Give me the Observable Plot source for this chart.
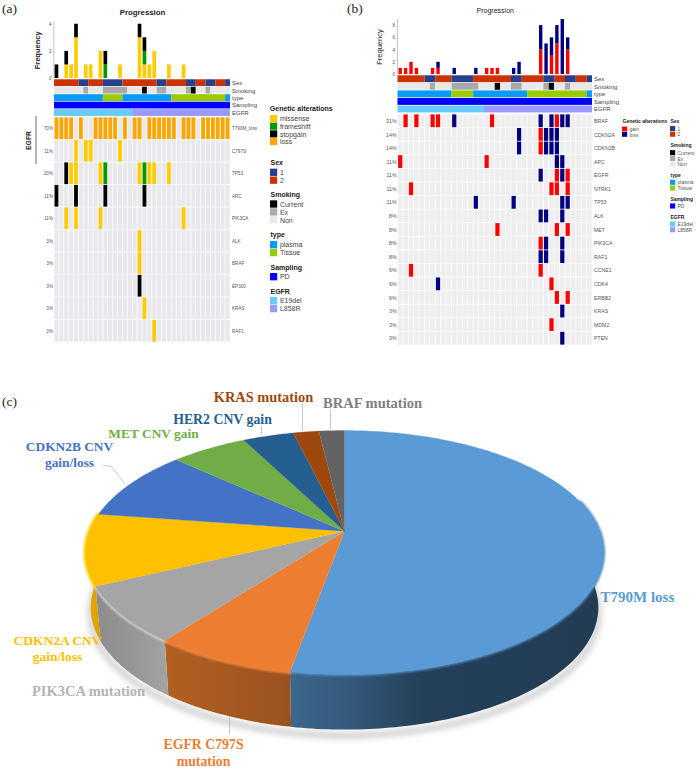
<!DOCTYPE html>
<html><head><meta charset="utf-8">
<script src="https://cdn.jsdelivr.net/npm/d3@7"></script>
<script src="https://cdn.jsdelivr.net/npm/@observablehq/plot@0.6"></script>
<style>
html,body{margin:0;padding:0;background:#fff}
#root{position:relative;width:696px;height:771px;overflow:hidden}
#root svg{position:absolute;background:transparent;max-width:none;overflow:visible;font-family:"Liberation Sans",sans-serif !important}
.tag{position:absolute;font:13.5px "Liberation Serif",serif;color:#222}
</style></head><body><div id="root">
<div class="tag" style="left:2px;top:1px">(a)</div>
<div class="tag" style="left:347px;top:1px">(b)</div>
<div class="tag" style="left:2px;top:394px">(c)</div>
</div>
<script>
// ---------- shared sample annotations (36 samples) ----------
const samples = d3.range(36);
const sexBySample = ["2","2","2","2","2","1","1","2","2","2","1","1","1","1","2","2","2","2","2","2","2","1","1","2","2","2","2","1","1","2","2","1","1","2","2","1"];
const smokingBySample = ["Non","Non","Non","Non","Non","Non","Ex","Non","Non","Non","Ex","Ex","Ex","Ex","Ex","Non","Non","Non","Current","Non","Non","Ex","Ex","Non","Non","Non","Non","Ex","Current","Non","Non","Ex","Non","Non","Non","Non"];
const typeBySample = ["plasma","plasma","plasma","plasma","plasma","plasma","plasma","plasma","plasma","plasma","Tissue","Tissue","Tissue","Tissue","plasma","plasma","plasma","plasma","plasma","plasma","plasma","plasma","plasma","plasma","Tissue","Tissue","Tissue","Tissue","Tissue","Tissue","Tissue","Tissue","Tissue","Tissue","Tissue","plasma"];
const samplingBySample = samples.map(() => "PD");
const egfrBySample = samples.map(i => i < 16 ? "E19del" : "L858R");
const trackNames = ["Sex","Smoking","type","Sampling","EGFR"];

// ---------- panel (a) ----------
const aGenes = ["T790M_loss","C797S","TP53","APC","PIK3CA","ALK","BRAF","EP300","KRAS","RAF1"];
const aPct = ["70%","11%","20%","11%","11%","3%","3%","3%","3%","3%"];
const aLoss = [[0,1,2,3,5,8,9,10,11,12,14,16,17,19,20,21,22,23,24,26,27,28,30,31,32,33,34,35],[],[],[],[],[],[],[],[],[]];
const aMissense = [[],[4,6,7,13],[3,4,9,17,19,20,23],[],[2,4,9,26],[17],[17],[],[18],[20]];
const aFrameshift = [[],[],[10,18],[],[],[],[],[],[],[]];
const aStopgain = [[],[],[2],[0,4,10,18],[],[],[],[17],[],[]];

// ---------- panel (b) ----------
const bGenes = ["BRAF","CDKN2A","CDKN2B","APC","EGFR","NTRK1","TP53","ALK","MET","PIK3CA","RAF1","CCNE1","CDK4","ERBB2","KRAS","MDM2","PTEN"];
const bPct = ["31%","14%","14%","11%","11%","11%","11%","8%","8%","8%","8%","6%","6%","6%","3%","3%","3%"];
const bGain = [[1,3,6,7,17,29],[26],[26],[0,16],[29,31],[2,28,29,31],[],[],[18,29,31],[26],[],[2,26],[28],[29,31],[],[28],[]];
const bLoss = [[10,26,28,30,31],[22,27,28,29],[22,27,28,29],[29,30],[26,30],[],[14,21,30,31],[26,27,30],[],[27,30],[26,27,30],[],[7],[],[30],[],[30]];

// ---------- panel (c) ----------
const pieNames = ["T790M loss","EGFR C797S\nmutation","PIK3CA mutation","CDKN2A CNV\ngain/loss","CDKN2B CNV\ngain/loss","MET CNV gain","HER2 CNV gain","KRAS mutation","BRAF mutation"];
const pieCounts = [28,4,4,5,5,3,2,1,1];
const pieColors = ["#5b9bd5","#ed7d31","#a5a5a5","#ffc000","#4472c4","#70ad47","#255e91","#9e480e","#636363"];
const pieTextColors = ["#5b9bd5","#ed7d31","#b4b4b4","#ffc000","#4472c4","#70ad47","#255e91","#9e480e","#7f7f7f"];

// ---------- colours ----------
const trackColors = {domain:["1","2","Current","Ex","Non","plasma","Tissue","PD","E19del","L858R"],
  range:["#283f8e","#cc3300","#000000","#aaaaaa","#e8e8e8","#0a9bf5","#99cc00","#0000ff","#66ccff","#9999ff"]};
const aKinds = ["missense","frameshift","stopgain","loss"];
const aKindColors = ["#ffcc00","#009900","#000000","#ffa500"];
const bKinds = ["gain","loss"];
const bKindColors = ["#ff0000","#000080"];

const root = document.getElementById("root");
function put(svg, left, top){ svg.style.left = left+"px"; svg.style.top = top+"px"; root.appendChild(svg); }
const bandX = {type:"band",domain:samples,padding:0,round:false,axis:null};

function tidy(genes, lists){
  const out=[];
  lists.forEach(([kind,rows])=>rows.forEach((r,i)=>r.forEach(s=>out.push({gene:genes[i],sample:s,kind}))));
  return out;
}
// adjacent samples with the same value are joined into one run
function runs(track, values){
  const out=[];
  values.forEach((v,i)=>{
    const last=out[out.length-1];
    if(last && last.v===v) last.end=i+1; else out.push({track,v,start:i,end:i+1});
  });
  return out;
}
const trackRuns = [
  ...runs("Sex",sexBySample),...runs("Smoking",smokingBySample),...runs("type",typeBySample),
  ...runs("Sampling",samplingBySample),...runs("EGFR",egfrBySample)];

function panel(o){
  const W=o.width, colW=(o.x1-o.x0)/36;
  const barData=o.alts.filter(d=>d.gene!==o.skipGene);
  put(Plot.plot({width:W,height:o.barBase,marginTop:o.barTop,marginBottom:0,marginLeft:o.x0,marginRight:W-o.x1,
    x:bandX,
    y:{domain:[0,o.barMax],axis:null},
    color:{domain:o.kinds,range:o.kindColors},
    marks:[
      Plot.barY(barData,Plot.groupX({y:"count"},{x:"sample",fill:"kind",order:o.kinds,insetLeft:o.barInset,insetRight:o.barInset})),
      Plot.ruleX([0],{dx:-colW/2-.6,stroke:"#999",strokeWidth:.6}),
      Plot.text(o.barTicks,{y:d=>d,text:d=>String(d),frameAnchor:"left",textAnchor:"end",dx:-3,fontSize:4.5,fill:"#555"}),
      Plot.text(["Frequency"],{frameAnchor:"left",textAnchor:"middle",dx:o.freqDx,rotate:-90,fontSize:o.freqSize,fontWeight:o.freqWeight,fill:"#222"}),
      Plot.text(["Progression"],{frameAnchor:"top",lineAnchor:"middle",dy:o.titleDy,fontSize:o.titleSize,fontWeight:o.titleWeight,fill:"#222"})
    ]}),o.left,0);
  put(Plot.plot({width:W,height:o.trackH,marginTop:.6,marginBottom:.4,marginLeft:o.x0,marginRight:W-o.x1,
    x:{domain:[0,36],axis:null},
    y:{type:"band",domain:trackNames,padding:.09,round:false,axis:null},
    color:trackColors,
    marks:[
      Plot.barX(trackRuns,{x1:"start",x2:"end",y:"track",fill:"v"}),
      Plot.text(trackNames,{y:d=>d,text:d=>d,frameAnchor:"right",textAnchor:"start",dx:1.5,fontSize:6,fill:"#444"})
    ]}),o.left,o.barBase);
  const bg=o.genes.flatMap(g=>samples.map(s=>({gene:g,sample:s})));
  put(Plot.plot({width:W,height:o.gridH,marginTop:0,marginBottom:0,marginLeft:o.x0,marginRight:W-o.x1,
    x:bandX,
    y:{type:"band",domain:o.genes,padding:0,round:false,axis:null},
    color:{domain:o.kinds,range:o.kindColors},
    marks:[
      Plot.cell(bg,{x:"sample",y:"gene",fill:o.cellBg,insetLeft:.35,insetRight:.35,insetTop:.4,insetBottom:.4}),
      Plot.cell(o.alts,{x:"sample",y:"gene",fill:"kind",insetLeft:o.cellInset,insetRight:o.cellInset,insetTop:.4,insetBottom:.4}),
      Plot.text(o.genes,{y:d=>d,text:(d,i)=>o.pct[i],frameAnchor:"left",textAnchor:"end",dx:-1.5,fontSize:o.rowFont,fill:"#555"}),
      Plot.text(o.genes,{y:d=>d,text:d=>d,frameAnchor:"right",textAnchor:"start",dx:1.5,fontSize:o.rowFont,fill:"#555"})
    ]}),o.left,o.gridTop);
}

function legend(o){
  const n=o.items.length, top=o.titleY-6, mt=o.firstY-o.pitch/2-top, sw=o.swatch;
  put(Plot.plot({width:70,height:mt+o.pitch*n,marginTop:mt,marginBottom:0,marginLeft:0,marginRight:70-sw,
    x:{type:"band",domain:["k"],padding:0,round:false,axis:null},
    y:{type:"band",domain:o.items,padding:0,round:false,axis:null},
    color:{domain:o.items,range:o.colors},
    marks:[
      Plot.cell(o.items,{x:()=>"k",y:d=>d,fill:d=>d,insetTop:.3,insetBottom:.3}),
      Plot.text(o.items,{y:d=>d,text:d=>d,frameAnchor:"left",textAnchor:"start",dx:sw+o.gap,fontSize:o.font,fill:o.textFill}),
      Plot.text([o.title],{frameAnchor:"top-left",textAnchor:"start",lineAnchor:"middle",dx:o.titleDx||0,dy:o.titleY-o.firstY+o.pitch/2,fontSize:o.titleFont,fontWeight:"bold",fill:"#222"})
    ]}),o.left,top);
}

panel({left:0,width:345,x0:54,x1:230,barBase:78,barTop:21.7,barMax:4.15,barTicks:[0,2,4],barInset:.6,
  freqDx:-17,freqSize:7.5,freqWeight:"bold",titleDy:-9.7,titleSize:7.8,titleWeight:"bold",
  kinds:aKinds,kindColors:aKindColors,
  alts:tidy(aGenes,[["loss",aLoss],["missense",aMissense],["frameshift",aFrameshift],["stopgain",aStopgain]]),skipGene:"T790M_loss",
  trackH:39,gridTop:117,gridH:225,genes:aGenes,pct:aPct,cellBg:"#e9e9ed",cellInset:.55,rowFont:4.6});

panel({left:345,width:351,x0:52.5,x1:247,barBase:74,barTop:19,barMax:9,barTicks:[0,2,4,6,8],barInset:1,
  freqDx:-18.5,freqSize:7.5,freqWeight:"normal",titleDy:-9,titleSize:7,titleWeight:"normal",
  kinds:bKinds,kindColors:bKindColors,
  alts:tidy(bGenes,[["gain",bGain],["loss",bLoss]]),skipGene:null,
  trackH:39.5,gridTop:114,gridH:231,genes:bGenes,pct:bPct,cellBg:"#eeeeee",cellInset:.6,rowFont:5.2});

put(Plot.plot({width:40,height:48,margin:0,x:{domain:[0,1],axis:null},y:{domain:[0,1],axis:null},
  marks:[Plot.ruleX([1],{stroke:"#444",strokeWidth:.8,dx:-4.5}),
         Plot.text(["EGFR"],{x:()=>1,frameAnchor:"middle",dx:-12,rotate:-90,fontSize:6.8,fontWeight:"bold",fill:"#222"})]}),0,116);

const A={left:270,swatch:7.2,gap:2.2,font:7,titleFont:7,textFill:"#444"};
legend({...A,title:"Genetic alterations",titleDx:-.7,titleY:108,firstY:118.5,pitch:7.7,items:aKinds,colors:aKindColors});
const tc=k=>trackColors.range[trackColors.domain.indexOf(k)];
[["Sex",161.7,172,["1","2"]],["Smoking",194.3,204.3,["Current","Ex","Non"]],["type",234.3,245,["plasma","Tissue"]],["Sampling",267,276.7,["PD"]],["EGFR",291.3,301,["E19del","L858R"]]]
  .forEach(([t,ty,fy,it])=>legend({...A,title:t,titleY:ty,firstY:fy,pitch:7.9,items:it,colors:it.map(tc)}));
const B={swatch:5.2,gap:1.8,font:5,titleFont:5,textFill:"#555"};
legend({...B,left:621.7,title:"Genetic alterations",titleY:121,firstY:129,pitch:5.4,items:bKinds,colors:bKindColors});
[["Sex",121,128.5,["1","2"]],["Smoking",145,152.7,["Current","Ex","Non"]],["type",175,182.3,["plasma","Tissue"]],["Sampling",199,206,["PD"]],["EGFR",217,224,["E19del","L858R"]]]
  .forEach(([t,ty,fy,it])=>legend({...B,left:670,title:t,titleY:ty,firstY:fy,pitch:5.7,items:it,colors:it.map(tc)}));

// ---------- 3D pie ----------
const K=.175, DEPTH=.465, BASE=.98;
const total=d3.sum(pieCounts);
const pt=deg=>{const t=deg*Math.PI/180,u=Math.sin(t),v=Math.cos(t),w=1+K*v;return {x:u/w,y:v/w};};
const arc=(a,b)=>{const n=Math.max(2,Math.ceil(Math.abs(b-a)));return d3.range(n+1).map(i=>pt(a+(b-a)*i/n));};
const edges=d3.cumsum([0,...pieCounts]).map(c=>c/total*360);
const slices=pieCounts.map((c,i)=>({i,a:edges[i],b:edges[i+1]}));
const under=p=>({x:p.x*BASE,y:p.y-DEPTH});
const shade=p=>({x:p.x*BASE,y:p.y-DEPTH-.05});
const FRONT_A=75,FRONT_B=285;
const defs=()=>{const g=document.createElementNS("http://www.w3.org/2000/svg","defs");
  g.innerHTML=`
  <linearGradient id="w0"><stop offset="0" stop-color="#3d678d"/><stop offset=".18" stop-color="#355a7c"/><stop offset=".42" stop-color="#24405a"/><stop offset="1" stop-color="#223c53"/></linearGradient>
  <linearGradient id="w1"><stop offset="0" stop-color="#b26022"/><stop offset="1" stop-color="#9a521e"/></linearGradient>
  <linearGradient id="w2"><stop offset="0" stop-color="#8c8c8c"/><stop offset=".6" stop-color="#989898"/><stop offset="1" stop-color="#a4a4a4"/></linearGradient>
  <linearGradient id="w3"><stop offset="0" stop-color="#e6ab00"/><stop offset="1" stop-color="#d69e00"/></linearGradient>`;
  return g;};
const rimColors={0:"#4f88bb",1:"#f0873e",2:"#cccccc",3:"#ffd200"};
const cx=344, cy=160.7, sx=255, sy=118.3;
const wallMarks=[0,1,2,3].map(i=>{
  const s=slices[i],a=Math.max(s.a,FRONT_A),b=Math.min(s.b,FRONT_B);
  const top=arc(a,b);
  return Plot.line([...top,...top.slice().reverse().map(under)],{x:"x",y:"y",fill:`url(#w${i})`,stroke:"none"});
});
const rimMarks=[0,1,2,3].map(i=>{
  const s=slices[i],a=Math.max(s.a,FRONT_A),b=Math.min(s.b,FRONT_B);
  return Plot.line(arc(a,b),{x:"x",y:"y",stroke:rimColors[i],strokeWidth:i===0?3:4,imageFilter:"blur(1.2px)"});
});
const faceMarks=slices.map(s=>Plot.line([{x:0,y:0},...arc(s.a,s.b)],{x:"x",y:"y",fill:pieColors[s.i],stroke:pieColors[s.i],strokeWidth:.3}));
const ux=px=>(px-cx)/sx, uy=py=>(cy-(py-370))/sy;
const labelPlaces=[[600,595.7,"start",15],[203,751.5,"middle",13.8],[88,690,"middle",14.5],[57,647,"middle",13.5],[69,453,"middle",13.4],[153,432.7,"middle",13.4],[222,418,"middle",13.8],[263,396,"middle",14.4],[372,401.7,"middle",14.5]];
const leaders=[[[330,409],[330,428]],[[302,403],[302,430]],[[261,426],[261,433]],[[103,465],[111,466],[124,483]],[[229,717],[229,733]]];
put(Plot.plot({width:696,height:401,margin:0,
  x:{domain:[-1,1],range:[cx-sx,cx+sx],axis:null},
  y:{domain:[-1,1],range:[cy+sy,cy-sy],axis:null},
  marks:[
    defs,
    Plot.line(arc(60,300).map(shade),{x:"x",y:"y",stroke:"#c4c4c4",strokeWidth:5,imageFilter:"blur(3px)"}),
    ...wallMarks,...rimMarks,...faceMarks,
    ...leaders.map(L=>Plot.line(L.map(([a,b])=>({x:ux(a),y:uy(b)})),{x:"x",y:"y",stroke:"#b0b0b0",strokeWidth:.7})),
    ...pieNames.map((n,i)=>Plot.text([n],{x:()=>ux(labelPlaces[i][0]),y:()=>uy(labelPlaces[i][1]),text:d=>d,textAnchor:labelPlaces[i][2],
      fontFamily:"Liberation Serif",fontWeight:"bold",fontSize:labelPlaces[i][3],lineHeight:1.2,fill:pieTextColors[i]}))
  ]}),0,370);
</script></body></html>
